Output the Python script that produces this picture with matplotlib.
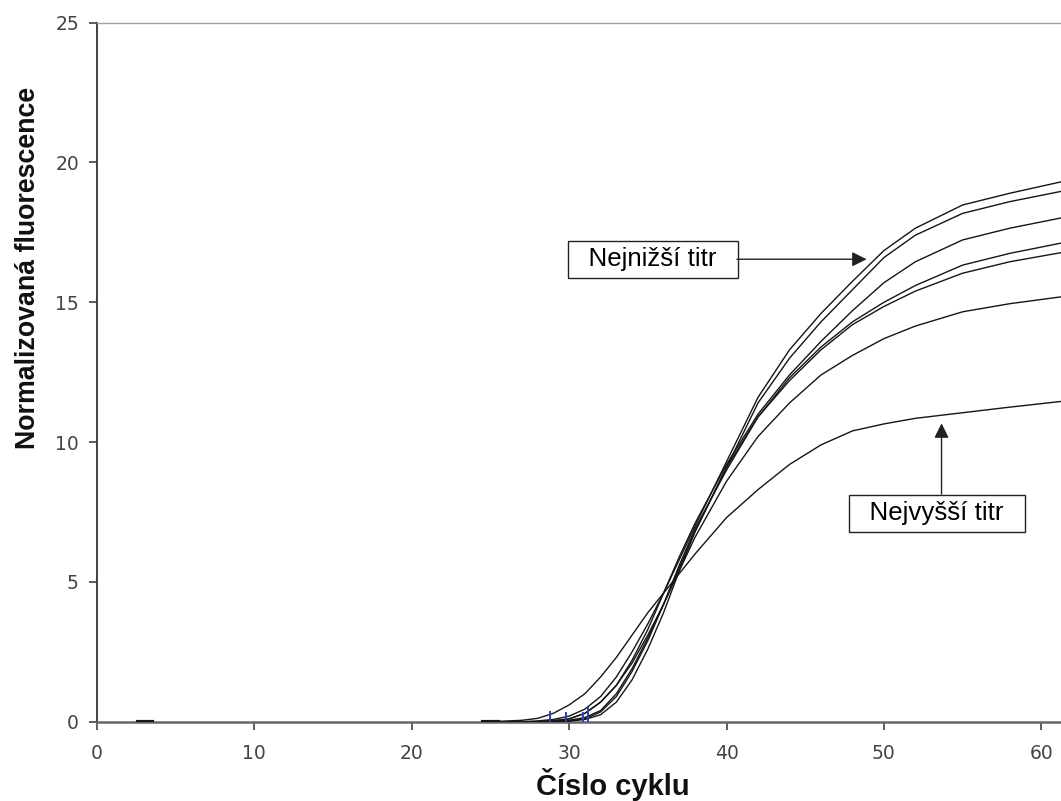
import matplotlib
matplotlib.use("Agg")
import matplotlib.pyplot as plt

# cycle grid shared by all amplification curves
cycles = [25, 27, 28, 29, 30, 31, 32, 33, 34, 35, 36, 37, 38, 40, 42, 44, 46, 48, 50, 52, 55, 58, 62]

# normalized fluorescence of the seven dilutions (lowest titre on top)
curve_a = [0, 0, 0.03, 0.08, 0.2, 0.45, 0.9, 1.6, 2.5, 3.5, 4.6, 5.8, 7.0, 9.3, 11.6, 13.3, 14.6, 15.75, 16.85, 17.65, 18.48, 18.9, 19.4]
curve_b = [0, 0, 0, 0.02, 0.05, 0.15, 0.4, 1.0, 1.9, 3.0, 4.2, 5.5, 6.8, 9.1, 11.4, 13.0, 14.3, 15.45, 16.6, 17.4, 18.18, 18.6, 19.05]
curve_c = [0, 0, 0, 0.04, 0.1, 0.3, 0.7, 1.3, 2.2, 3.3, 4.6, 5.9, 7.1, 9.2, 11.0, 12.4, 13.6, 14.7, 15.7, 16.45, 17.23, 17.65, 18.1]
curve_d = [0, 0, 0, 0, 0.03, 0.1, 0.35, 0.9, 1.8, 2.9, 4.2, 5.6, 6.9, 9.0, 10.9, 12.3, 13.4, 14.3, 15.0, 15.6, 16.33, 16.75, 17.2]
curve_e = [0, 0, 0, 0, 0.02, 0.08, 0.25, 0.7, 1.5, 2.6, 3.9, 5.4, 6.8, 9.1, 10.9, 12.2, 13.3, 14.2, 14.85, 15.4, 16.04, 16.45, 16.85]
curve_f = [0, 0, 0, 0.03, 0.1, 0.3, 0.7, 1.3, 2.1, 3.1, 4.2, 5.4, 6.6, 8.6, 10.2, 11.4, 12.4, 13.1, 13.7, 14.15, 14.66, 14.95, 15.25]
curve_g = [0, 0.05, 0.12, 0.3, 0.6, 1.0, 1.6, 2.3, 3.1, 3.9, 4.6, 5.3, 6.0, 7.3, 8.3, 9.2, 9.9, 10.4, 10.65, 10.85, 11.05, 11.25, 11.5]
curves = [curve_a, curve_b, curve_c, curve_d, curve_e, curve_f, curve_g]

# short flat baseline pieces lying on the x axis
baseline_pieces = [(2.6, 3.5), (24.5, 25.5)]

# threshold crossing marks (cycle, height)
ct_cycles = [28.8, 29.8, 30.9, 31.2]
ct_heights = [0.35, 0.3, 0.3, 0.5]

fig = plt.figure(figsize=(10.61, 8.01), dpi=100)
ax = fig.add_axes([0.0914, 0.099, 0.9086, 0.8727])

for ys in curves:
    ax.plot(cycles, ys, color="#151515", linewidth=1.0, zorder=3)

for x0, x1 in baseline_pieces:
    ax.plot([x0, x1], [0, 0], color="#151515", linewidth=3.0, zorder=3)

for cx, ch in zip(ct_cycles, ct_heights):
    ax.plot([cx, cx], [0, ch], color="#3040b0", linewidth=1.4, zorder=4)

ax.set_xlim(0, 61.25)
ax.set_ylim(0, 25)
ax.set_xticks(range(0, 61, 10))
ax.set_yticks(range(0, 26, 5))

ax.spines["right"].set_visible(False)
ax.spines["left"].set_color("#333333")
ax.spines["left"].set_linewidth(1.3)
ax.spines["bottom"].set_color("#666666")
ax.spines["bottom"].set_linewidth(1.8)
ax.spines["top"].set_color("#9aa4ad")
ax.spines["top"].set_linewidth(1.0)

ax.tick_params(direction="out", length=6, width=1.2, color="#444444",
               labelcolor="#444444", labelsize=13.5)
ax.tick_params(axis="x", pad=10)
ax.tick_params(axis="y", pad=7)
for lab in ax.get_xticklabels() + ax.get_yticklabels():
    lab.set_family("DejaVu Sans")

ax.set_xlabel("Číslo cyklu", fontsize=21, fontweight="bold",
              family="Liberation Sans", color="#111111")
ax.set_ylabel("Normalizovaná fluorescence", fontsize=19.3, fontweight="bold",
              family="Liberation Sans", color="#111111")
ax.xaxis.set_label_coords(0.535, -0.066)
ax.yaxis.set_label_coords(-0.0715, 0.649)
ax.yaxis.label.set_va("center")

box = dict(boxstyle="square,pad=0.25", facecolor="white", edgecolor="#222222", linewidth=1.0)
arrow = dict(arrowstyle="-|>", color="#222222", linewidth=1.0, mutation_scale=22, shrinkA=0, shrinkB=0)

# labelled boxes and their pointers
ax.text(35.3, 16.54, "  Nejnižší titr  ", fontsize=18.6, family="Liberation Sans",
        ha="center", va="center", bbox=box, zorder=5)
ax.annotate("", xy=(48.9, 16.54), xytext=(40.66, 16.54), arrowprops=arrow, zorder=5)

ax.text(53.37, 7.45, "  Nejvyšší titr  ", fontsize=18.6, family="Liberation Sans",
        ha="center", va="center", bbox=box, zorder=5)
ax.annotate("", xy=(53.66, 10.67), xytext=(53.66, 8.14), arrowprops=arrow, zorder=5)

fig.savefig("out.png", dpi=100)
